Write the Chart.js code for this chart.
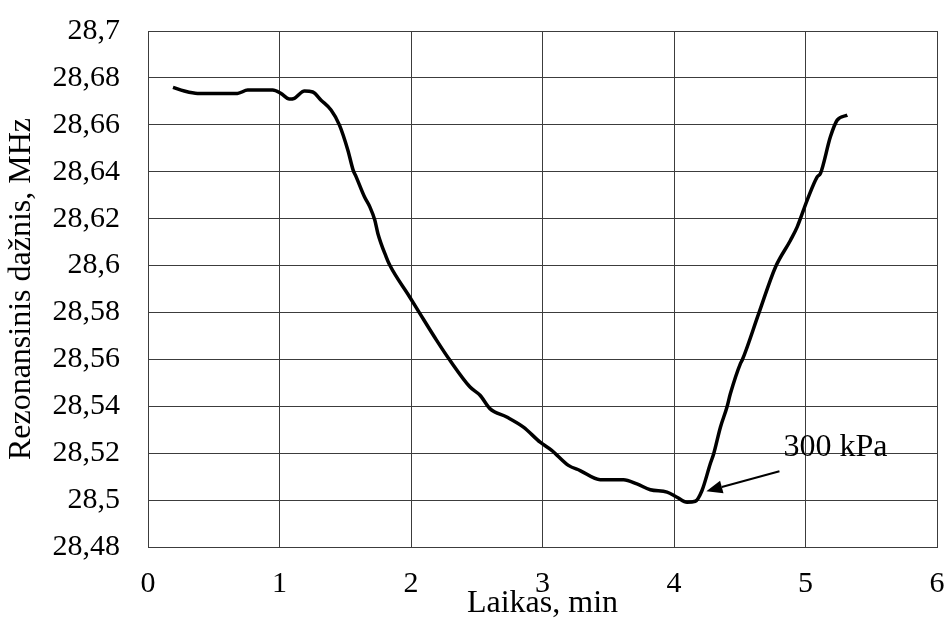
<!DOCTYPE html>
<html>
<head>
<meta charset="utf-8">
<script src="https://cdn.jsdelivr.net/npm/chart.js@4/dist/chart.umd.min.js"></script>
<style>
  html, body { margin: 0; padding: 0; background: #ffffff; }
  #wrap { width: 948px; height: 619px; }
</style>
</head>
<body>
<div id="wrap"><canvas id="c" width="948" height="619"></canvas></div>
<script>
// ---- data ----
const timeMin = [
  0.19, 0.276, 0.377, 0.68, 0.758, 0.948, 1.01, 1.075, 1.113, 1.19,
  1.253, 1.316, 1.392, 1.456, 1.52, 1.56, 1.583, 1.646, 1.687, 1.725,
  1.748, 1.811, 1.839, 1.99, 2.068, 2.195, 2.296, 2.449, 2.525, 2.6,
  2.728, 2.855, 2.982, 3.07, 3.197, 3.286, 3.439, 3.616, 3.718, 3.82,
  3.947, 4.023, 4.099, 4.162, 4.213, 4.276, 4.302, 4.353, 4.403, 4.429,
  4.505, 4.518, 4.644, 4.772, 4.886, 4.937, 5.013, 5.089, 5.114, 5.19,
  5.241, 5.318
];
const freqMHz = [
  28.676, 28.6744, 28.6734, 28.6734, 28.6748, 28.6748, 28.6734, 28.671, 28.6713, 28.6744,
  28.674, 28.6705, 28.6663, 28.6599, 28.6492, 28.6407, 28.6378, 28.6293, 28.625, 28.6193,
  28.6137, 28.6037, 28.6001, 28.5866, 28.5795, 28.5681, 28.5596, 28.5482, 28.5447, 28.539,
  28.5354, 28.5311, 28.5247, 28.5212, 28.5148, 28.5126, 28.5087, 28.5087, 28.5069, 28.5044,
  28.5034, 28.5012, 28.4991, 28.4995, 28.5041, 28.5155, 28.5198, 28.5311, 28.5397, 28.5454,
  28.5582, 28.5596, 28.5795, 28.5994, 28.6108, 28.6165, 28.6279, 28.6378, 28.6393, 28.655,
  28.662, 28.6641
];
const xTickValues = [0, 1, 2, 3, 4, 5, 6];
const xTickLabels = ['0', '1', '2', '3', '4', '5', '6'];
const yTickValues = [28.48, 28.5, 28.52, 28.54, 28.56, 28.58, 28.6, 28.62, 28.64, 28.66, 28.68, 28.7];
const yTickLabels = ['28,48', '28,5', '28,52', '28,54', '28,56', '28,58', '28,6', '28,62', '28,64', '28,66', '28,68', '28,7'];
const xTitle = 'Laikas, min';
const yTitle = 'Rezonansinis dažnis, MHz';
// annotation (data coordinates)
const noteText = '300 kPa';
const noteTextAt = [4.832, 28.5224];
const noteArrowFrom = [4.802, 28.5123];
const noteArrowTo = [4.246, 28.5038];

const FONT = '"Liberation Serif", "Times New Roman", serif';
const GRID = '#3c3c3c';

const points = timeMin.map((t, i) => ({ x: t, y: freqMHz[i] }));

function zeroPad(s) { s.paddingTop = 0; s.paddingBottom = 0; s.paddingLeft = 0; s.paddingRight = 0; }

const annotationPlugin = {
  id: 'note',
  afterDatasetsDraw(chart) {
    const { ctx, scales } = chart;
    const xs = scales.x, ys = scales.y;
    const fx = xs.getPixelForValue(noteArrowFrom[0]), fy = ys.getPixelForValue(noteArrowFrom[1]);
    const tx = xs.getPixelForValue(noteArrowTo[0]), ty = ys.getPixelForValue(noteArrowTo[1]);
    const ang = Math.atan2(ty - fy, tx - fx);
    const headLen = 16, headHalf = 6.5;
    const bx = tx - headLen * Math.cos(ang), by = ty - headLen * Math.sin(ang);
    ctx.save();
    ctx.strokeStyle = '#000';
    ctx.fillStyle = '#000';
    ctx.lineWidth = 2;
    ctx.beginPath();
    ctx.moveTo(fx, fy);
    ctx.lineTo(bx, by);
    ctx.stroke();
    ctx.beginPath();
    ctx.moveTo(tx, ty);
    ctx.lineTo(bx + headHalf * Math.sin(ang), by - headHalf * Math.cos(ang));
    ctx.lineTo(bx - headHalf * Math.sin(ang), by + headHalf * Math.cos(ang));
    ctx.closePath();
    ctx.fill();
    ctx.font = '32px ' + FONT;
    ctx.textAlign = 'left';
    ctx.textBaseline = 'middle';
    ctx.fillText(noteText, xs.getPixelForValue(noteTextAt[0]), ys.getPixelForValue(noteTextAt[1]));
    ctx.restore();
  }
};

new Chart(document.getElementById('c'), {
  type: 'scatter',
  data: {
    datasets: [{
      data: points,
      showLine: true,
      borderColor: '#000000',
      borderWidth: 3.5,
      pointRadius: 0,
      fill: false,
      cubicInterpolationMode: 'monotone'
    }]
  },
  options: {
    responsive: false,
    animation: false,
    layout: { padding: { left: 0, top: 31, right: 11, bottom: 0 } },
    plugins: { legend: { display: false }, tooltip: { enabled: false } },
    scales: {
      x: {
        type: 'linear',
        min: 0, max: 6,
        afterBuildTicks: (s) => { s.ticks = xTickValues.map(v => ({ value: v })); },
        afterFit: (s) => { s.height = 72; zeroPad(s); },
        grid: { color: GRID, lineWidth: 1, drawTicks: false },
        border: { display: true, color: GRID, width: 1 },
        ticks: {
          padding: 19,
          color: '#000',
          font: { family: FONT, size: 30 },
          maxRotation: 0,
          callback: (v, i) => xTickLabels[i]
        },
        title: {
          display: true,
          text: xTitle,
          color: '#000',
          font: { family: FONT, size: 32, lineHeight: 1 },
          padding: { top: 0, bottom: -1 }
        }
      },
      y: {
        type: 'linear',
        min: 28.48, max: 28.7,
        afterBuildTicks: (s) => { s.ticks = yTickValues.map(v => ({ value: v })); },
        afterFit: (s) => { s.width = 148; zeroPad(s); },
        grid: { color: GRID, lineWidth: 1, drawTicks: false },
        border: { display: true, color: GRID, width: 1 },
        ticks: {
          padding: 28,
          color: '#000',
          font: { family: FONT, size: 30 },
          callback: (v, i) => yTickLabels[i]
        },
        title: {
          display: true,
          text: yTitle,
          color: '#000',
          font: { family: FONT, size: 32, lineHeight: 1 },
          padding: { top: 6, bottom: 0 }
        }
      }
    }
  },
  plugins: [annotationPlugin, {
    id: 'frame',
    afterDraw(chart) {
      const { ctx, chartArea: a } = chart;
      ctx.save();
      ctx.strokeStyle = GRID;
      ctx.lineWidth = 1;
      ctx.strokeRect(Math.round(a.left) + 0.5, Math.round(a.top) + 0.5, Math.round(a.right - a.left), Math.round(a.bottom - a.top));
      ctx.restore();
    }
  }]
});
</script>
</body>
</html>
